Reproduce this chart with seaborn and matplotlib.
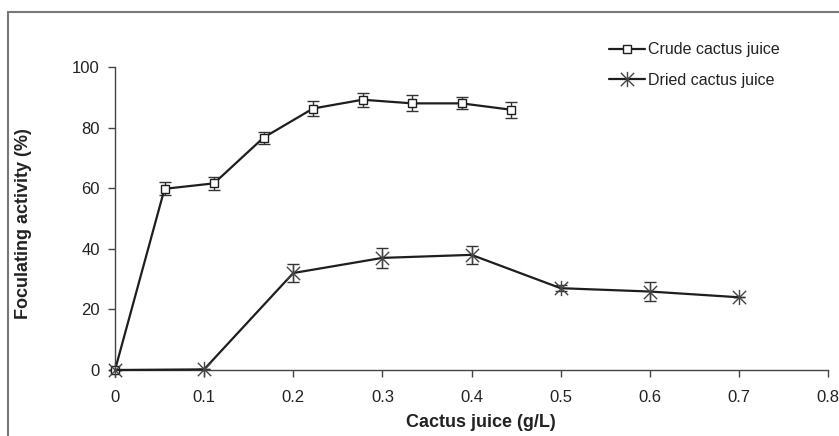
import numpy as np
import pandas as pd
import matplotlib
matplotlib.use("Agg")
import matplotlib.pyplot as plt
from matplotlib.path import Path
from matplotlib.patches import Rectangle
import seaborn as sns

# ---- data ----
crude_x = [0, 0.0556, 0.1111, 0.1667, 0.2222, 0.2778, 0.3333, 0.3889, 0.4444]
crude_y = [0, 59.8, 61.6, 76.7, 86.3, 89.2, 88.0, 88.0, 85.9]
crude_err = [0, 2.1, 2.1, 2.0, 2.5, 2.3, 2.6, 2.0, 2.6]

dried_x = [0, 0.1, 0.2, 0.3, 0.4, 0.5, 0.6, 0.7]
dried_y = [0, 0.2, 32.0, 37.0, 38.0, 27.0, 25.9, 24.0]
dried_err = [0, 0, 3.0, 3.2, 3.0, 1.0, 3.0, 0]

x_ticks = [0, 0.1, 0.2, 0.3, 0.4, 0.5, 0.6, 0.7, 0.8]
x_tick_labels = ["0", "0.1", "0.2", "0.3", "0.4", "0.5", "0.6", "0.7", "0.8"]
y_ticks = [0, 20, 40, 60, 80, 100]

sns.set_style("white")
plt.rcParams["font.family"] = ["Liberation Sans", "DejaVu Sans"]

fig = plt.figure(figsize=(8.39, 4.36), dpi=100)
ax = fig.add_axes([115 / 839, 1 - 370 / 436, (828 - 115) / 839, (370 - 67) / 436])

# outer frame
fig.patches.append(Rectangle((8 / 839, -0.05), 1.1, 1 - 12 / 436 + 0.05,
                             transform=fig.transFigure, fill=False,
                             edgecolor="#777777", linewidth=1.5, zorder=0))

star = Path([(-1, -1), (1, 1), (-1, 1), (1, -1), (0, -1.15), (0, 1.15)],
            [Path.MOVETO, Path.LINETO, Path.MOVETO, Path.LINETO, Path.MOVETO, Path.LINETO])

line_col = "#1e1e1e"
df_c = pd.DataFrame({"x": crude_x, "y": crude_y})
df_d = pd.DataFrame({"x": dried_x, "y": dried_y})

ax.errorbar(crude_x, crude_y, yerr=crude_err, fmt="none", ecolor="#333333",
            elinewidth=1.0, capsize=4, capthick=1.0, zorder=2, clip_on=False)
ax.errorbar(dried_x, dried_y, yerr=dried_err, fmt="none", ecolor="#333333",
            elinewidth=1.0, capsize=4, capthick=1.0, zorder=2, clip_on=False)

sns.lineplot(data=df_c, x="x", y="y", ax=ax, color=line_col, linewidth=1.6,
             marker="s", markersize=6, markerfacecolor="white",
             markeredgecolor=line_col, markeredgewidth=1.0,
             label="Crude cactus juice", clip_on=False, zorder=3)
sns.lineplot(data=df_d, x="x", y="y", ax=ax, color=line_col, linewidth=1.6,
             marker=star, markersize=11, markerfacecolor="none",
             markeredgecolor="#444444", markeredgewidth=1.0,
             label="Dried cactus juice", clip_on=False, zorder=3)

ax.set_xlim(0, 0.8)
ax.set_ylim(0, 100)
ax.set_xticks(x_ticks)
ax.set_xticklabels(x_tick_labels)
ax.set_yticks(y_ticks)

for s in ["top", "right"]:
    ax.spines[s].set_visible(False)
for s in ["left", "bottom"]:
    ax.spines[s].set_color("#444444")
    ax.spines[s].set_linewidth(1.0)

ax.tick_params(axis="both", direction="out", length=5, width=1.0, color="#444444",
               labelsize=12, labelcolor="#222222")
ax.tick_params(axis="x", pad=9.5, bottom=True)
ax.tick_params(axis="y", pad=6, left=True)

ax.set_xlabel("Cactus juice (g/L)", fontsize=13, fontweight="bold", color="#222222")
ax.xaxis.set_label_coords((481 - 115) / 713, (370 - 414) / 303)
ax.xaxis.label.set_va("top")
ax.set_ylabel("Foculating activity (%)", fontsize=13, fontweight="bold", color="#222222")
ax.yaxis.label.set_va("center")
ax.yaxis.set_label_coords((24 - 115) / 713, (370 - 224) / 303)

leg = ax.legend(loc="upper left", bbox_to_anchor=(603 / 839, 1 - 36 / 436),
                bbox_transform=fig.transFigure, frameon=False, fontsize=11.5,
                handlelength=2.2, handletextpad=0.2, labelspacing=0.95,
                borderaxespad=0)
for t in leg.get_texts():
    t.set_color("#222222")

fig.savefig("out.png", dpi=100)
